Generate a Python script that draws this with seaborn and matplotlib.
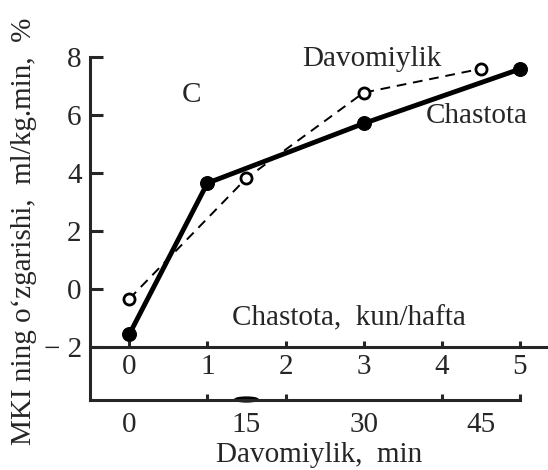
import numpy as np
import pandas as pd
import seaborn as sns
import matplotlib.pyplot as plt
from matplotlib.patches import Ellipse

# data
chastota_x = [0, 1, 3, 5]                # kun/hafta
chastota_y = [-1.55, 3.65, 5.7, 7.57]    # MKI change, %
davom_x = [0, 15, 30, 45]                # min
davom_y = [-0.33, 3.82, 6.76, 7.58]

chastota_ticks = [0, 1, 2, 3, 4, 5]
davom_ticks = [0, 15, 30, 45]
davom_minor = [0, 10, 20, 30, 40, 50]
y_ticks = [-2, 0, 2, 4, 6, 8]

sns.set_style("ticks")
plt.rcParams['font.family'] = ['Liberation Serif', 'DejaVu Serif']

FS = 21

fig = plt.figure(figsize=(5.48, 4.70), dpi=100)
pos = [90 / 548, 70.5 / 470, 458 / 548, 372 / 470]
ax = fig.add_axes(pos)
ax2 = fig.add_axes(pos)
ax2.patch.set_visible(False)

ylim = (-3.79, 9.0)
ax.set_xlim(-0.503, 5.36)
ax.set_ylim(*ylim)
ax2.set_xlim(-5.03, 53.6)
ax2.set_ylim(*ylim)

lw_spine = 2.2
# main axis: left spine + chastota axis at y = -2
for s in ['top', 'right']:
    ax.spines[s].set_visible(False)
ax.spines['left'].set_linewidth(lw_spine)
ax.spines['left'].set_bounds(ylim[0], 8)
ax.spines['bottom'].set_position(('data', -2))
ax.spines['bottom'].set_linewidth(lw_spine)
ax.set_xticks(chastota_ticks)
ax.set_yticks(y_ticks)
ax.set_yticklabels(['\u2212 2', '0', '2', '4', '6', '8'])
ax.tick_params(axis='x', direction='in', length=4, width=lw_spine, labelsize=FS, pad=5)
ax.tick_params(axis='y', direction='in', length=9, width=lw_spine, labelsize=FS, pad=6)

# second axis: davomiylik in minutes at the bottom
for s in ['top', 'right', 'left']:
    ax2.spines[s].set_visible(False)
ax2.spines['bottom'].set_linewidth(lw_spine)
ax2.spines['bottom'].set_bounds(-5.03, 50)
ax2.set_yticks([])
ax2.set_xticks(davom_ticks)
ax2.set_xticks(davom_minor, minor=True)
ax2.tick_params(axis='x', which='major', length=0, labelsize=FS, pad=9)
ax2.tick_params(axis='x', which='minor', direction='in', length=4, width=lw_spine)
ax2.set_xlabel('Davomiylik,  min', fontsize=FS, labelpad=3)
ax2.add_patch(Ellipse((15, 0), 3.0, 0.013, transform=ax2.get_xaxis_transform(),
                      color='black', clip_on=False))

sns.lineplot(x=chastota_x, y=chastota_y, ax=ax, color='black', lw=3.5,
             marker='o', markersize=10, markeredgecolor='black', zorder=3)
sns.lineplot(x=davom_x, y=davom_y, ax=ax2, color='black', lw=1.4,
             linestyle=(0, (5, 3.5)), marker='o', markersize=8,
             markerfacecolor='white', markeredgecolor='black', markeredgewidth=2)

ax.text(0.80, 6.68, 'C', fontsize=FS, ha='center', va='center')
ax.text(3.11, 7.91, 'Davomiylik', fontsize=FS, ha='center', va='center')
ax.text(3.79, 5.96, 'Chastota', fontsize=FS, ha='left', va='center')
ax.text(2.81, -0.99, 'Chastota,  kun/hafta', fontsize=FS, ha='center', va='center')
fig.text(24 / 548, 1 - 231 / 470, 'MKI ning o\u2018zgarishi,  ml/kg.min,  %',
         fontsize=FS, rotation=90, ha='center', va='center')

fig.savefig('out.png', dpi=100)
